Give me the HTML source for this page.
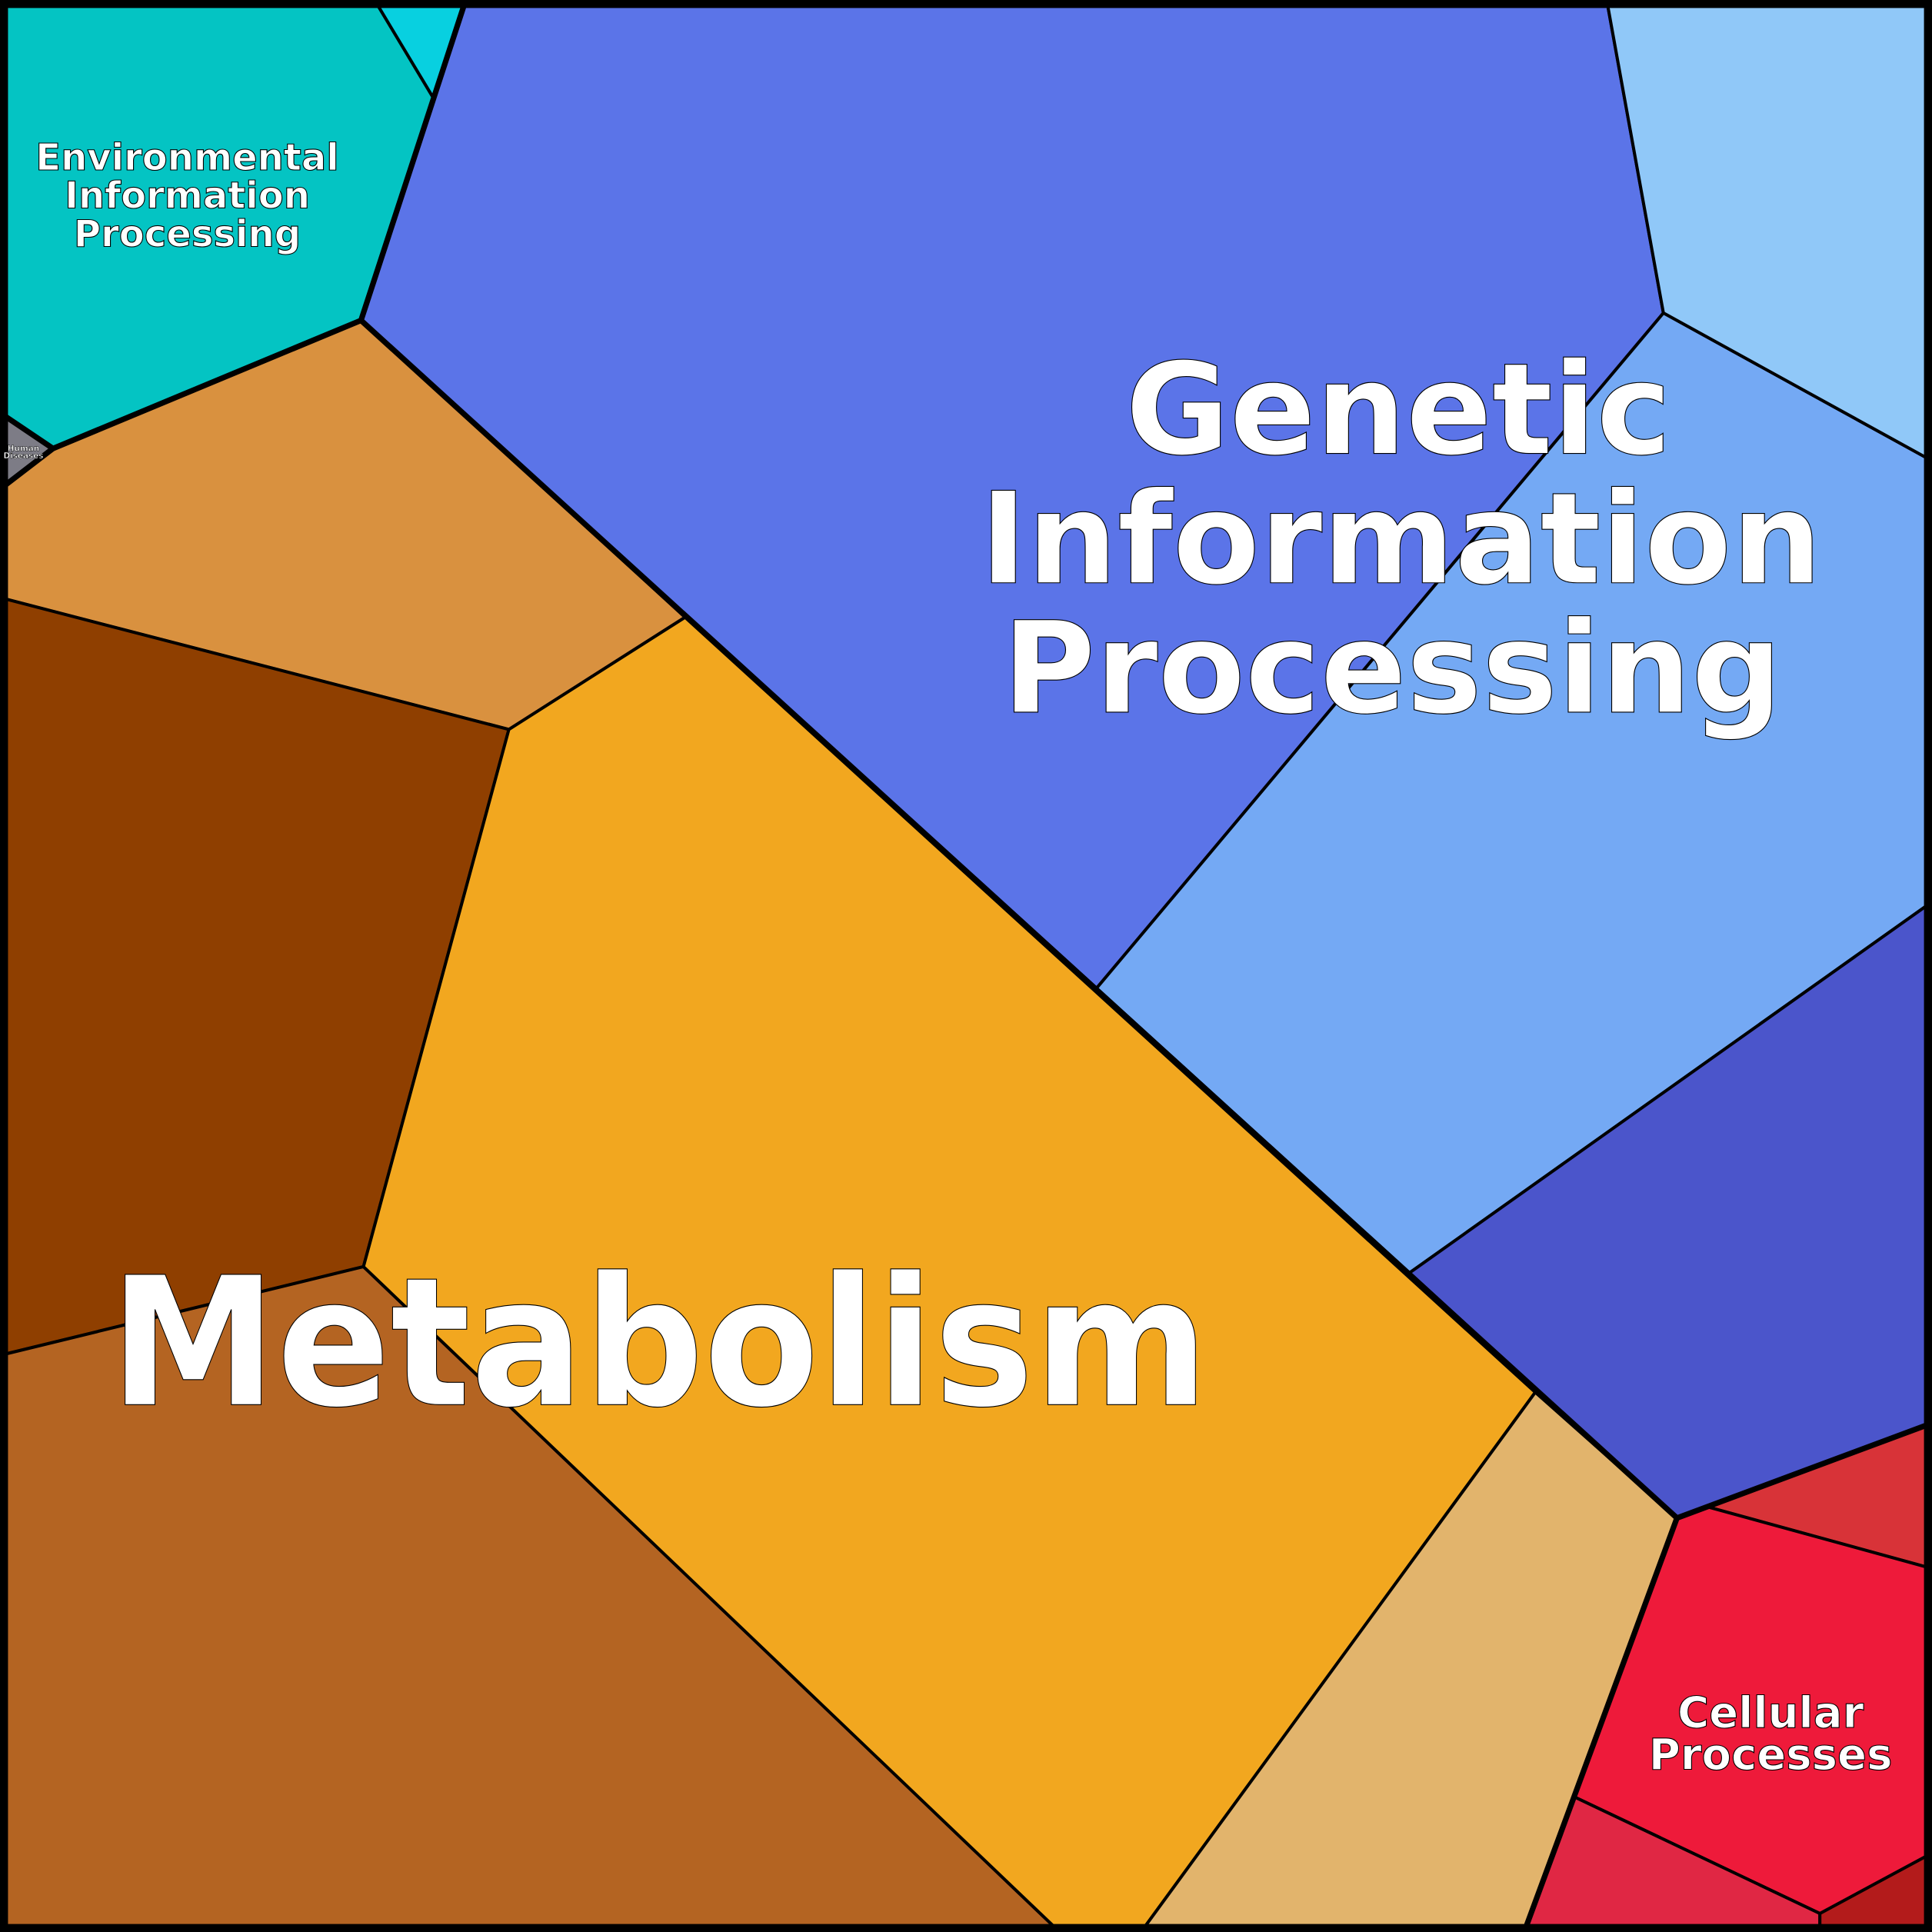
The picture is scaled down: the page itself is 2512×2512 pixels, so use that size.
<!DOCTYPE html>
<html><head><meta charset="utf-8"><style>html,body{margin:0;padding:0;background:#fff}svg{display:block}</style></head>
<body>
<svg width="2512" height="2512" viewBox="0 0 1568 1568" xmlns="http://www.w3.org/2000/svg">
<g stroke="#000" stroke-width="2.5" stroke-linejoin="round">
<polygon fill="#04C4C3" points="0,0 304,0 352,80 293,260 43,364 0,335"/>
<polygon fill="#08D0E0" points="304,0 378,0 352,80"/>
<polygon fill="#7D7C86" points="0,335 43,364 0,397"/>
<polygon fill="#D9913F" points="0,397 43,364 293,260 556,501 413,592 0,485"/>
<polygon fill="#8F3F00" points="0,485 413,592 295,1028 0,1100"/>
<polygon fill="#B46422" points="0,1100 295,1028 860,1568 0,1568"/>
<polygon fill="#F2A71F" points="413,592 556,501 1246,1130 926,1568 860,1568 295,1028"/>
<polygon fill="#E2B46C" points="926,1568 1246,1130 1361,1232 1237,1568"/>
<polygon fill="#5B74E8" points="378,0 1304,0 1350,254 890,802 293,260 352,80"/>
<polygon fill="#74A9F4" points="890,802 1350,254 1568,374 1568,732 1144,1033"/>
<polygon fill="#90C8F8" points="1304,0 1568,0 1568,374 1350,254"/>
<polygon fill="#4B55CB" points="1144,1033 1568,732 1568,1155 1361,1232"/>
<polygon fill="#D83338" points="1386,1223 1568,1155 1568,1273"/>
<polygon fill="#EE1A3A" points="1361,1232 1386,1223 1568,1273 1568,1504 1477,1553 1277,1458"/>
<polygon fill="#E02744" points="1277,1458 1477,1553 1477,1568 1237,1568"/>
<polygon fill="#B31B1B" points="1477,1553 1568,1504 1568,1568 1477,1568"/>
</g>
<g stroke="#000" stroke-width="4.5" fill="none" stroke-linejoin="round" stroke-linecap="round">
<polyline points="378,0 293,260 1361,1232 1568,1155"/>
<polyline points="1361,1232 1237,1568"/>
<polyline points="0,335 43,364 293,260"/>
<polyline points="0,397 43,364"/>
</g>
<rect x="3" y="3" width="1562" height="1562" fill="none" stroke="#000" stroke-width="7"/>
<g font-family="'DejaVu Sans','Liberation Sans',sans-serif" font-weight="bold" fill="#fff" stroke="#000" stroke-width="0.7" text-anchor="middle">
<text x="152" y="138" font-size="30">Environmental</text>
<text x="152" y="169" font-size="30">Information</text>
<text x="152" y="200" font-size="30">Processing</text>
<text x="1135" y="368" font-size="103">Genetic</text>
<text x="1137" y="473" font-size="103">Information</text>
<text x="1130" y="578" font-size="103">Processing</text>
<text x="535" y="1140" font-size="145" textLength="892" lengthAdjust="spacingAndGlyphs">Metabolism</text>
<text x="1437" y="1402" font-size="35">Cellular</text>
<text x="1437" y="1436" font-size="35">Processes</text>
<text x="19" y="366" font-size="6.5" stroke-width="0.3">Human</text>
<text x="19" y="372" font-size="6.5" stroke-width="0.3">Diseases</text>
</g>
</svg>
</body></html>
